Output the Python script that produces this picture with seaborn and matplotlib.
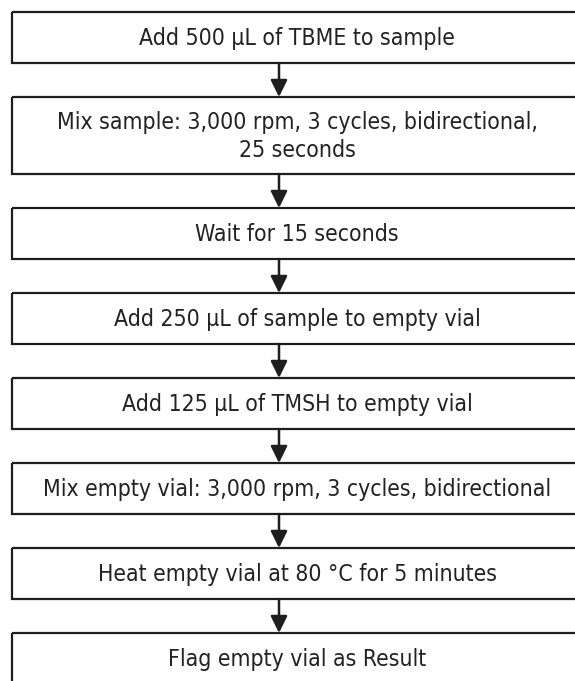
import matplotlib
matplotlib.use("Agg")
import matplotlib.pyplot as plt
from matplotlib.patches import Rectangle
import seaborn as sns

# flowchart steps, top to bottom
steps = [
    "Add 500 µL of TBME to sample",
    "Mix sample: 3,000 rpm, 3 cycles, bidirectional,\n25 seconds",
    "Wait for 15 seconds",
    "Add 250 µL of sample to empty vial",
    "Add 125 µL of TMSH to empty vial",
    "Mix empty vial: 3,000 rpm, 3 cycles, bidirectional",
    "Heat empty vial at 80 °C for 5 minutes",
    "Flag empty vial as Result",
]

sns.set_theme(style="white")
plt.rcParams["font.family"] = ["DejaVu Sans"]

W, H = 575, 681
fig = plt.figure(figsize=(W / 100, H / 100), dpi=100)
ax = fig.add_axes([0, 0, 1, 1])
ax.set_xlim(0, W)
ax.set_ylim(H, 0)
ax.axis("off")

left, right = 12, 582
text_x = 297
arrow_x = 279
gap = 34
single_h = 51
line_h = 26
edge = "#1e1e1e"

y = 12
prev_bottom = None
for step in steps:
    n_lines = step.count("\n") + 1
    h = single_h + (n_lines - 1) * line_h
    if prev_bottom is not None:
        ax.annotate("", xy=(arrow_x, y), xytext=(arrow_x, prev_bottom),
                    arrowprops=dict(arrowstyle="-|>,head_length=0.85,head_width=0.42",
                                    color=edge, lw=1.8, shrinkA=0, shrinkB=0))
    ax.add_patch(Rectangle((left, y), right - left, h, fill=False,
                           edgecolor=edge, linewidth=1.6, clip_on=True))
    ax.text(text_x, y + h / 2 + 1, step, ha="center", va="center",
            fontsize=16.5, fontstretch="condensed", color="#222222",
            linespacing=1.33)
    prev_bottom = y + h
    y = prev_bottom + gap

fig.savefig("out.png", dpi=100)
